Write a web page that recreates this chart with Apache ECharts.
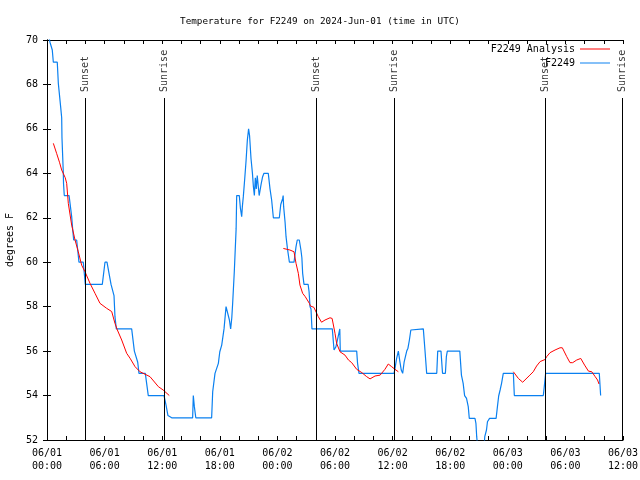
<!DOCTYPE html>
<html>
<head>
<meta charset="utf-8">
<script src="https://cdn.jsdelivr.net/npm/echarts@6/dist/echarts.min.js"></script>
<style>html,body{margin:0;padding:0;background:#fff}#c{width:640px;height:480px}</style>
</head>
<body>
<div id="c"></div>
<script>
// hours since 2024-06-01 00:00 UTC
var observedHours = [0.0,0.31,0.55,0.66,1.07,1.18,1.42,1.53,1.56,1.7,1.72,1.8,2.3,2.57,2.67,2.78,3.09,3.33,3.78,3.99,5.76,6.04,6.25,6.46,6.67,6.98,7.08,7.22,8.82,9.1,9.45,9.58,10.24,10.55,12.19,12.4,12.6,12.99,15.17,15.24,15.35,15.5,17.15,17.26,17.5,17.85,18.0,18.2,18.44,18.65,18.83,19.0,19.13,19.25,19.34,19.51,19.7,19.76,20.03,20.15,20.28,20.35,20.45,20.6,20.73,20.87,21.0,21.1,21.25,21.4,21.5,21.6,21.7,21.8,21.9,22.1,22.3,22.46,22.6,23.05,23.23,23.4,23.58,24.2,24.35,24.55,24.6,24.65,24.8,24.9,25.05,25.25,25.73,25.94,26.07,26.28,26.45,26.55,26.63,26.77,27.2,27.3,27.4,27.5,27.6,29.72,29.9,30.0,30.1,30.3,30.5,30.55,32.26,32.35,32.5,36.15,36.25,36.42,36.6,36.75,36.9,37.05,37.2,37.47,37.6,37.75,37.9,38.1,39.2,39.37,39.55,40.6,40.7,41.04,41.2,41.5,41.6,41.7,43.0,43.17,43.35,43.5,43.7,43.88,43.99,44.58,44.68,44.76,44.9,45.5,45.6,45.78,45.88,46.1,46.78,46.92,47.05,47.2,47.35,47.53,48.58,48.68,51.7,51.8,51.94,57.53,57.67];
var observedTemps = [70.6,69.9,69.55,69.0,69.0,68.05,67.0,66.5,65.6,64.0,63.55,63.0,63.0,62.05,61.5,61.0,61.0,60.0,60.0,59.0,59.0,60.0,60.0,59.5,59.0,58.5,57.55,57.0,57.0,56.0,55.5,55.0,55.0,54.0,54.0,53.57,53.1,53.0,53.0,54.0,53.5,53.0,53.0,54.17,55.0,55.45,55.97,56.27,57.0,58.0,58.0,57.4,57.0,57.5,58.15,59.57,61.5,63.0,63.0,62.42,62.05,62.5,62.95,63.78,64.53,65.5,66.0,65.7,64.67,64.0,63.4,63.0,63.8,63.3,63.9,63.0,63.5,63.85,64.0,64.0,63.3,62.8,62.0,62.0,62.6,62.87,63.0,62.5,61.8,61.15,60.6,60.0,60.0,60.7,61.0,61.0,60.55,60.2,59.5,59.0,59.0,58.67,58.0,57.9,57.0,57.0,56.05,56.0,56.2,56.6,57.0,56.0,56.0,55.45,55.0,55.0,55.22,55.67,56.0,55.55,55.15,55.0,55.5,56.0,56.13,56.5,56.95,57.0,57.0,56.05,55.0,55.0,56.0,56.0,55.0,55.0,55.75,56.0,56.0,54.92,54.55,54.0,53.87,53.5,52.97,52.97,52.75,52.15,51.5,51.5,52.15,52.45,52.82,52.97,52.97,53.5,53.98,54.25,54.55,55.0,55.0,54.0,54.0,54.4,55.0,55.0,54.0];

var analysisHours = [0.66,1.0,1.3,1.53,1.9,2.05,2.22,2.57,2.92,3.26,3.61,3.96,4.48,5.0,5.52,6.2,6.74,7.08,7.33,7.78,8.3,8.65,9.17,9.69,10.73,11.6,12.1,12.74,null,24.62,25.3,25.73,25.94,26.18,26.35,26.63,26.9,27.33,27.44,27.8,28.26,28.6,28.96,29.48,29.7,30.0,30.17,30.52,31.04,31.4,31.74,32.26,32.8,33.3,33.65,34.17,34.7,35.2,35.55,35.9,36.25,36.6,null,48.58,49.1,49.55,49.7,50.3,50.65,51.0,51.37,51.87,52.05,52.4,52.92,53.44,53.68,54.14,54.48,54.76,55.18,55.6,56.0,56.4,56.75,57.1,57.35,57.5];
var analysisTemps = [65.35,64.9,64.5,64.15,63.8,63.55,62.65,61.67,61.0,60.47,59.87,59.57,59.05,58.6,58.15,57.93,57.78,57.25,56.95,56.5,55.9,55.68,55.3,55.07,54.85,54.4,54.25,54.0,null,60.62,60.55,60.47,59.95,59.5,58.97,58.6,58.45,58.15,58.03,57.97,57.55,57.3,57.4,57.5,57.47,56.8,56.35,55.97,55.82,55.6,55.48,55.18,55.03,54.85,54.75,54.88,54.92,55.18,55.42,55.3,55.18,55.07,null,55.07,54.77,54.6,54.62,54.92,55.07,55.33,55.53,55.62,55.75,55.93,56.05,56.15,56.15,55.75,55.48,55.48,55.6,55.67,55.37,55.1,55.07,54.85,54.7,54.52];

var sunEventHours = [3.96, 12.19, 28.02, 36.15, 51.9, 59.9];
var sunEventNames = ['Sunset', 'Sunrise', 'Sunset', 'Sunrise', 'Sunset', 'Sunrise'];

var yTicks = [52, 54, 56, 58, 60, 62, 64, 66, 68, 70];
var xLabelDates = ['06/01', '06/02', '06/03'];

var FONT = 'DejaVu Sans Mono';

var analysis = [];
for (var i = 0; i < analysisHours.length; i++) {
  analysis.push(analysisHours[i] === null ? '-' : [analysisHours[i], analysisTemps[i]]);
}
var observed = observedHours.map(function (h, i) { return [h, observedTemps[i]]; });
var sunLabels = sunEventHours.map(function (h, i) { return { value: [h, 67.66], name: sunEventNames[i] }; });
var sunLines = sunEventHours.map(function (h) { return [{ coord: [h, 52] }, { coord: [h, 67.39] }]; });

function pad(n) { return (n < 10 ? '0' : '') + n; }
function xFmt(v) {
  var d = Math.floor(v / 24 + 1e-9);
  var hh = Math.round(v - d * 24);
  return xLabelDates[d] + '\n' + pad(hh) + ':00';
}

var axisCommon = {
  axisLine: { show: true, lineStyle: { color: '#000', width: 1 } },
  axisTick: { show: true, inside: true, length: 4, lineStyle: { color: '#000' } },
  splitLine: { show: false }
};

var chart = echarts.init(document.getElementById('c'), null, { renderer: 'canvas' });
chart.setOption({
  animation: false,
  backgroundColor: '#fff',
  title: {
    text: 'Temperature for F2249 on 2024-Jun-01 (time in UTC)',
    left: 'center', top: 12,
    textStyle: { fontFamily: FONT, fontSize: 9.3, fontWeight: 'normal', color: '#000' }
  },
  legend: {
    data: ['F2249 Analysis', 'F2249'],
    orient: 'vertical', right: 25, top: 38, align: 'right',
    icon: 'rect', itemWidth: 30, itemHeight: 1, itemGap: 2,
    textStyle: { fontFamily: FONT, fontSize: 10, color: '#000', lineHeight: 12 }
  },
  grid: { left: 47, right: 17, top: 40, bottom: 40, outerBoundsMode: 'none', containLabel: false },
  xAxis: [
    Object.assign({}, axisCommon, {
      type: 'value', min: 0, max: 60, interval: 6, position: 'bottom',
      minorTick: { show: true, splitNumber: 3, length: 4, lineStyle: { color: '#000' } },
      axisLabel: { formatter: xFmt, fontFamily: FONT, fontSize: 10, color: '#000', lineHeight: 13, margin: 7 }
    }),
    Object.assign({}, axisCommon, {
      type: 'value', min: 0, max: 60, interval: 6, position: 'top',
      minorTick: { show: true, splitNumber: 3, length: 4, lineStyle: { color: '#000' } },
      axisLabel: { show: false }
    })
  ],
  yAxis: [
    Object.assign({}, axisCommon, {
      type: 'value', min: yTicks[0], max: yTicks[yTicks.length - 1], interval: 2, position: 'left',
      name: 'degrees F', nameLocation: 'middle', nameGap: 31,
      nameTextStyle: { fontFamily: FONT, fontSize: 10, color: '#000' },
      axisLabel: { fontFamily: FONT, fontSize: 10, color: '#000', margin: 9 }
    }),
    Object.assign({}, axisCommon, {
      type: 'value', min: yTicks[0], max: yTicks[yTicks.length - 1], interval: 2, position: 'right',
      axisLabel: { show: false }
    })
  ],
  series: [
    {
      name: 'F2249 Analysis', type: 'line', data: analysis, showSymbol: false, symbol: 'none',
      connectNulls: false, clip: true,
      lineStyle: { color: '#ff0000', width: 1 }, itemStyle: { color: '#ff0000' }, z: 3
    },
    {
      name: 'F2249', type: 'line', data: observed,
      showSymbol: false, symbol: 'none', clip: true,
      lineStyle: { color: '#0a80f0', width: 1.2 }, itemStyle: { color: '#0a80f0' }, z: 2
    },
    {
      name: 'sun', type: 'scatter', data: sunLabels, symbolSize: 0.01, silent: true, z: 4,
      label: {
        show: true, formatter: function (p) { return p.name; }, position: [0, 0],
        rotate: 90, align: 'left', verticalAlign: 'middle',
        fontFamily: FONT, fontSize: 10, color: '#000'
      },
      markLine: {
        silent: true, symbol: 'none', animation: false,
        lineStyle: { color: '#000', width: 1, type: 'solid' },
        label: { show: false },
        data: sunLines
      }
    }
  ]
});
</script>
</body>
</html>
